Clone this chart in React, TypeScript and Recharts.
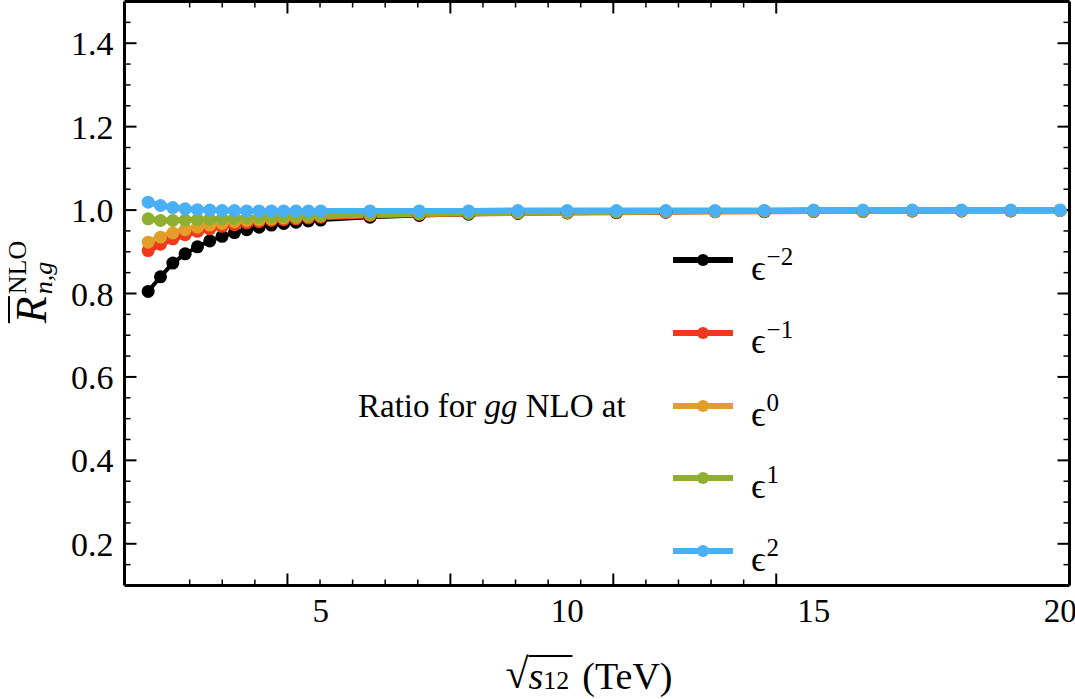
import React from 'react';
import { LineChart, Line, XAxis, YAxis, Legend } from 'recharts';

const energies = [1.5, 1.75, 2, 2.25, 2.5, 2.75, 3, 3.25, 3.5, 3.75, 4, 4.25, 4.5, 4.75, 5, 6, 7, 8, 9, 10, 11, 12, 13, 14, 15, 16, 17, 18, 19, 20];
const epsMinus2 = [0.805, 0.84, 0.873, 0.895, 0.912, 0.926, 0.937, 0.946, 0.953, 0.959, 0.964, 0.968, 0.971, 0.974, 0.976, 0.983, 0.987, 0.99, 0.992, 0.993, 0.994, 0.995, 0.996, 0.996, 0.997, 0.997, 0.998, 0.998, 0.998, 0.999];
const epsMinus1 = [0.903, 0.918, 0.931, 0.941, 0.949, 0.955, 0.961, 0.965, 0.969, 0.972, 0.975, 0.977, 0.979, 0.981, 0.983, 0.987, 0.99, 0.992, 0.993, 0.994, 0.995, 0.996, 0.997, 0.997, 0.998, 0.998, 0.998, 0.999, 0.999, 0.999];
const epsZero = [0.923, 0.935, 0.945, 0.953, 0.959, 0.964, 0.968, 0.972, 0.975, 0.977, 0.979, 0.981, 0.983, 0.985, 0.986, 0.989, 0.991, 0.993, 0.994, 0.995, 0.996, 0.997, 0.997, 0.998, 0.998, 0.998, 0.999, 0.999, 0.999, 0.999];
const epsPlus1 = [0.979, 0.975, 0.975, 0.976, 0.977, 0.978, 0.979, 0.98, 0.981, 0.982, 0.983, 0.984, 0.985, 0.986, 0.987, 0.99, 0.992, 0.993, 0.994, 0.995, 0.996, 0.997, 0.997, 0.998, 0.998, 0.998, 0.999, 0.999, 0.999, 0.999];
const epsPlus2 = [1.019, 1.011, 1.006, 1.003, 1.001, 1.0, 0.999, 0.999, 0.998, 0.998, 0.998, 0.998, 0.998, 0.998, 0.998, 0.998, 0.998, 0.998, 0.999, 0.999, 0.999, 0.999, 0.999, 0.999, 1.0, 1.0, 1.0, 1.0, 1.0, 1.0];

const seriesExponents = ['\u22122', '\u22121', '0', '1', '2'];
const seriesColors = ['#000000', '#F0381C', '#E39E2A', '#8FAF32', '#4AB0F5'];
const seriesKeys = ['em2', 'em1', 'e0', 'ep1', 'ep2'];

const xMajorTicks = [5, 10, 15, 20];
const xMinorTicks = [2, 3, 4, 6, 7, 8, 9, 11, 12, 13, 14, 16, 17, 18, 19];
const yMajorTicks = [0.2, 0.4, 0.6, 0.8, 1.0, 1.2, 1.4];
const yMinorTicks = [0.15, 0.25, 0.3, 0.35, 0.45, 0.5, 0.55, 0.65, 0.7, 0.75, 0.85, 0.9, 0.95, 1.05, 1.1, 1.15, 1.25, 1.3, 1.35, 1.45];

const xDomain = [1.02, 20.19];
const yDomain = [0.1, 1.5];

const seriesValues = [epsMinus2, epsMinus1, epsZero, epsPlus1, epsPlus2];
const data = energies.map((e, i) => {
  const row: any = { e };
  seriesKeys.forEach((k, j) => {
    row[k] = seriesValues[j][i];
  });
  return row;
});

const FONT = '"Liberation Serif", serif';
const noTick = () => <g />;
const TINY = 0.01;

const renderOverlay = (props: any) => {
  const payload = [...(props.payload || [])].sort(
    (a: any, b: any) => seriesExponents.indexOf(a.value) - seriesExponents.indexOf(b.value)
  );
  return (
    <div style={{ position: 'relative', width: 1075, height: 699, fontFamily: FONT, color: '#000' }}>
      {payload.map((p: any, i: number) => (
        <div
          key={i}
          style={{ position: 'absolute', left: 673, top: 260 + i * 72.8 - 25, height: 50, display: 'flex', alignItems: 'center', whiteSpace: 'nowrap' }}
        >
          <svg width={60} height={14} style={{ display: 'block' }}>
            <line x1={0} y1={7} x2={60} y2={7} stroke={p.color} strokeWidth={6} />
            <circle cx={30} cy={7} r={6} fill={p.color} />
          </svg>
          <span style={{ marginLeft: 18, fontSize: 36, lineHeight: 1, position: 'relative', top: 6 }}>
            {'\u03F5'}
            <sup style={{ fontSize: 25, position: 'relative', top: -2, marginLeft: 1 }}>{p.value}</sup>
          </span>
        </div>
      ))}
      <div style={{ position: 'absolute', left: 358, top: 406, transform: 'translateY(-50%)', fontSize: 33, whiteSpace: 'nowrap' }}>
        Ratio for <i>gg</i> NLO at
      </div>
      <div
        style={{
          position: 'absolute',
          left: 31,
          top: 282,
          transform: 'translate(-50%, -50%) rotate(-90deg)',
          whiteSpace: 'nowrap',
          display: 'flex',
          alignItems: 'center',
        }}
      >
        <span style={{ fontSize: 44, fontStyle: 'italic', lineHeight: 1, borderTop: '2px solid #000' }}>R</span>
        <span style={{ display: 'inline-flex', flexDirection: 'column', lineHeight: 1, marginLeft: 2 }}>
          <span style={{ fontSize: 26 }}>NLO</span>
          <span style={{ fontSize: 26, fontStyle: 'italic' }}>n,g</span>
        </span>
      </div>
      <div
        style={{
          position: 'absolute',
          left: 589,
          top: 653,
          transform: 'translateX(-50%)',
          whiteSpace: 'nowrap',
          fontSize: 38,
          display: 'flex',
          alignItems: 'flex-end',
          lineHeight: 1,
        }}
      >
        <span style={{ fontSize: 42 }}>{'\u221A'}</span>
        <span style={{ borderTop: '2px solid #000', paddingRight: 3 }}>
          <i>s</i>
          <span style={{ fontSize: 26 }}>12</span>
        </span>
        <span style={{ marginLeft: 10 }}>(TeV)</span>
      </div>
    </div>
  );
};

export default function App() {
  return (
    <div style={{ position: 'absolute', left: 0, top: 0, background: '#fff' }}>
      <LineChart width={1075} height={699} data={data} margin={{ top: 1.5, right: 5.5, bottom: 0, left: 0 }}>
        <XAxis
          xAxisId="x"
          dataKey="e"
          type="number"
          domain={xDomain}
          allowDataOverflow
          ticks={xMajorTicks}
          interval={0}
          height={113.5}
          tickLine={false}
          tickSize={0}
          tickMargin={13}
          axisLine={{ stroke: '#000', strokeWidth: 3 }}
          tick={{ fontSize: 33, fontFamily: FONT, fill: '#000' }}
        />
        <XAxis xAxisId="xbMaj" type="number" domain={xDomain} allowDataOverflow ticks={xMajorTicks} interval={0} mirror height={TINY} tickSize={12} axisLine={false} tickLine={{ stroke: '#000', strokeWidth: 2 }} tick={noTick} />
        <XAxis xAxisId="xbMin" type="number" domain={xDomain} allowDataOverflow ticks={xMinorTicks} interval={0} mirror height={TINY} tickSize={6} axisLine={false} tickLine={{ stroke: '#000', strokeWidth: 1.5 }} tick={noTick} />
        <XAxis xAxisId="xtMaj" orientation="top" type="number" domain={xDomain} allowDataOverflow ticks={xMajorTicks} interval={0} mirror height={TINY} tickSize={12} axisLine={{ stroke: '#000', strokeWidth: 3 }} tickLine={{ stroke: '#000', strokeWidth: 2 }} tick={noTick} />
        <XAxis xAxisId="xtMin" orientation="top" type="number" domain={xDomain} allowDataOverflow ticks={xMinorTicks} interval={0} mirror height={TINY} tickSize={6} axisLine={false} tickLine={{ stroke: '#000', strokeWidth: 1.5 }} tick={noTick} />

        <YAxis
          yAxisId="y"
          type="number"
          domain={yDomain}
          allowDataOverflow
          ticks={yMajorTicks}
          interval={0}
          width={124.5}
          tickLine={false}
          tickSize={0}
          tickMargin={11}
          axisLine={{ stroke: '#000', strokeWidth: 3 }}
          tickFormatter={(v: number) => v.toFixed(1)}
          tick={{ fontSize: 34, fontFamily: FONT, fill: '#000' }}
        />
        <YAxis yAxisId="ylMaj" type="number" domain={yDomain} allowDataOverflow ticks={yMajorTicks} interval={0} mirror width={TINY} tickSize={12} axisLine={false} tickLine={{ stroke: '#000', strokeWidth: 2 }} tick={noTick} />
        <YAxis yAxisId="ylMin" type="number" domain={yDomain} allowDataOverflow ticks={yMinorTicks} interval={0} mirror width={TINY} tickSize={6} axisLine={false} tickLine={{ stroke: '#000', strokeWidth: 1.5 }} tick={noTick} />
        <YAxis yAxisId="yrMaj" orientation="right" type="number" domain={yDomain} allowDataOverflow ticks={yMajorTicks} interval={0} mirror width={TINY} tickSize={12} axisLine={{ stroke: '#000', strokeWidth: 3 }} tickLine={{ stroke: '#000', strokeWidth: 2 }} tick={noTick} />
        <YAxis yAxisId="yrMin" orientation="right" type="number" domain={yDomain} allowDataOverflow ticks={yMinorTicks} interval={0} mirror width={TINY} tickSize={6} axisLine={false} tickLine={{ stroke: '#000', strokeWidth: 1.5 }} tick={noTick} />

        {seriesKeys.map((k, i) => (
          <Line
            key={k}
            xAxisId="x"
            yAxisId="y"
            type="linear"
            dataKey={k}
            name={seriesExponents[i]}
            stroke={seriesColors[i]}
            strokeWidth={i === 0 ? 4 : 6}
            dot={{ r: 6.5, fill: seriesColors[i], stroke: 'none', strokeWidth: 0 }}
            activeDot={false}
            isAnimationActive={false}
          />
        ))}

        <Legend
          layout="horizontal"
          verticalAlign="middle"
          align="center"
          content={renderOverlay}
          wrapperStyle={{ position: 'absolute', left: 0, top: 0, width: 1075, height: 699, pointerEvents: 'none' }}
        />
      </LineChart>
    </div>
  );
}
